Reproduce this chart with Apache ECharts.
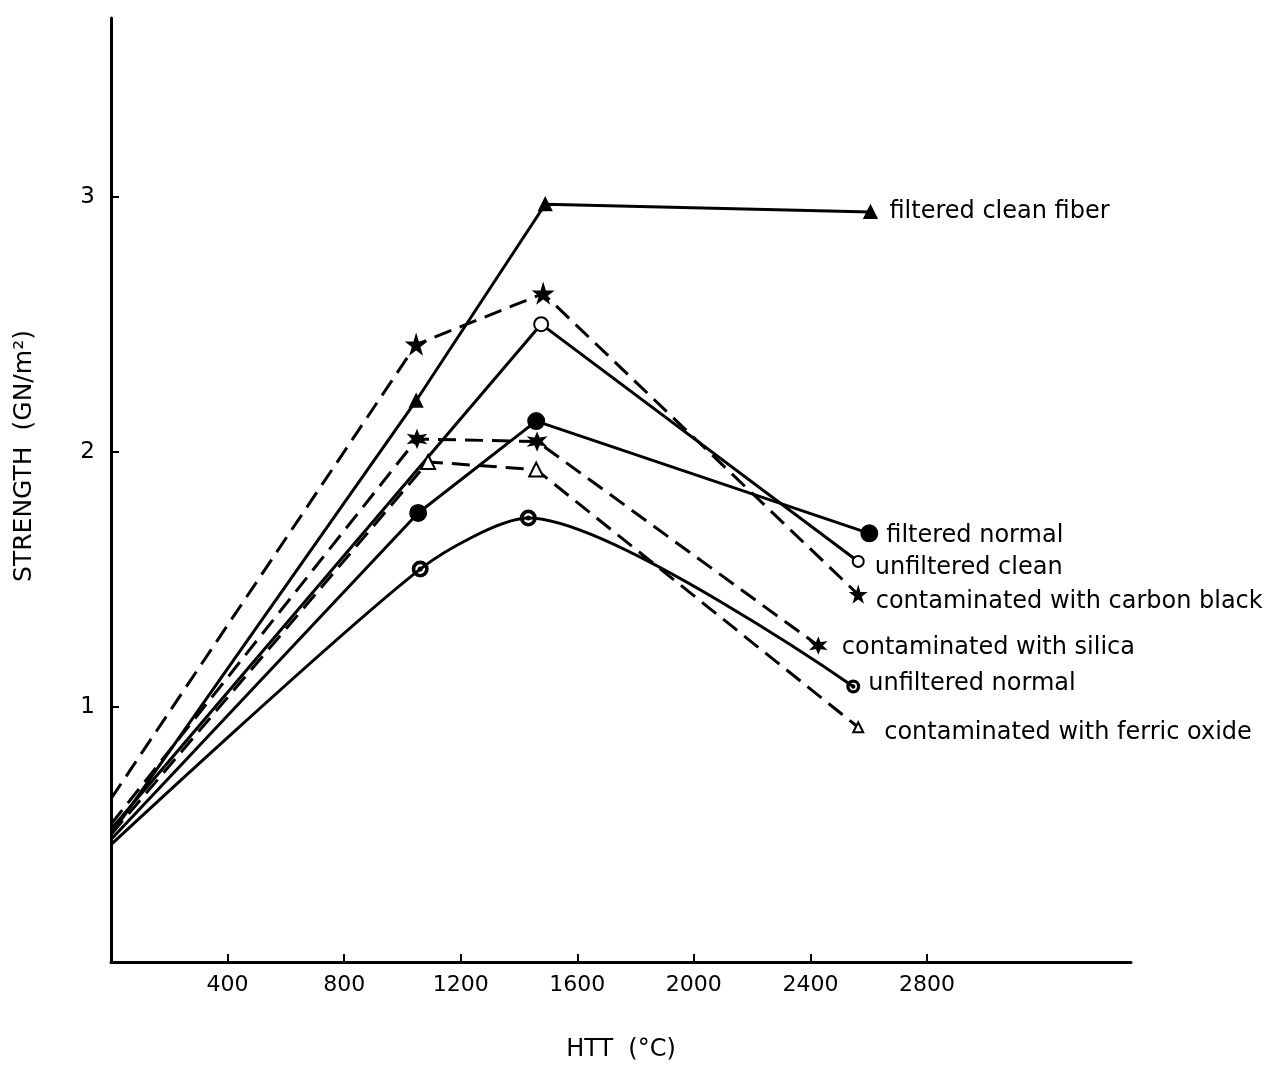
<!DOCTYPE html>
<html>
<head>
<meta charset="utf-8">
<title>Strength vs HTT</title>
<script src="https://cdn.jsdelivr.net/npm/echarts@6/dist/echarts.min.js"></script>
<style>
  html, body { margin: 0; padding: 0; background: #fff; }
  #chart { width: 1272px; height: 1067px; }
</style>
</head>
<body>
<div id="chart"></div>
<script>
// x ticks / y ticks
var xTicks = [400, 800, 1200, 1600, 2000, 2400, 2800]
var yTicks = [1, 2, 3]

// HTT (°C) and strength (GN/m2) per fiber
var cleanFiberHtt = [0, 1047, 1490, 2606]
var cleanFiberStr = [0.50, 2.20, 2.97, 2.94]

var carbonBlackHtt = [0, 1047, 1483, 2564]
var carbonBlackStr = [0.64, 2.42, 2.62, 1.44]

var unfCleanHtt = [0, 1476, 2564]
var unfCleanStr = [0.52, 2.50, 1.57]

var filtNormalHtt = [0, 1054, 1459, 2602]
var filtNormalStr = [0.48, 1.76, 2.12, 1.68]

var silicaHtt = [0, 1050, 1462, 2427]
var silicaStr = [0.54, 2.05, 2.04, 1.24]

var ferricHtt = [0, 1088, 1459, 2564]
var ferricStr = [0.50, 1.96, 1.93, 0.92]

var unfNormalHtt = [0, 1061, 1432, 2547]
var unfNormalStr = [0.46, 1.54, 1.74, 1.08]

// 符号
var STAR5 = 'path://M50,0 L61,35 L98,35 L68,57 L79,91 L50,70 L21,91 L32,57 L2,35 L39,35 Z'
var STAR6 = 'path://M50,0 L61,31 L93,25 L72,50 L93,75 L61,69 L50,100 L39,69 L7,75 L28,50 L7,25 L39,31 Z'
var DOTCIRCLE = 'path://M50,0 A50,50 0 1,1 49.99,0 Z M50,11 A39,39 0 1,0 50.01,11 Z M50,40 A10,10 0 1,1 49.99,40 Z'

var FONT = 'DejaVu Sans'

function makeSeries(name, htt, str, opt) {
  var data = htt.map(function (x, i) {
    var item = { value: [x, str[i]] }
    if (i === 0) item.symbol = 'none'
    if (i === htt.length - 1) {
      item.symbolSize = opt.endSize || opt.size
      item.label = {
        show: true,
        formatter: name,
        position: 'right',
        distance: opt.dist,
        offset: [0, opt.dy || 0],
        color: '#000',
        fontFamily: FONT,
        fontSize: 24
      }
    }
    return item
  })
  return {
    name: name,
    type: 'line',
    data: data,
    symbol: opt.symbol,
    symbolSize: opt.size,
    showSymbol: true,
    smooth: opt.smooth || false,
    animation: false,
    lineStyle: {
      color: '#000',
      width: 3,
      type: opt.dashed ? [18, 9] : 'solid'
    },
    itemStyle: {
      color: '#000',
      borderColor: '#000',
      borderWidth: 2
    }
  }
}

var chart = echarts.init(document.getElementById('chart'))

chart.setOption({
  backgroundColor: '#fff',
  grid: {
    left: 111,
    right: 141,
    top: 18,
    bottom: 102
  },
  xAxis: {
    type: 'value',
    min: 0,
    max: 3500,
    interval: 400,
    name: 'HTT  (°C)',
    nameLocation: 'middle',
    nameGap: 76,
    nameTextStyle: { color: '#000', fontFamily: FONT, fontSize: 24 },
    axisLine: { onZero: false, lineStyle: { color: '#000', width: 3 } },
    axisTick: { inside: true, length: 8, customValues: xTicks, lineStyle: { color: '#000', width: 2 } },
    axisLabel: {
      customValues: xTicks,
      formatter: function (v) { return String(v) },
      color: '#000', fontFamily: FONT, fontSize: 22, margin: 12
    },
    splitLine: { show: false }
  },
  yAxis: {
    type: 'value',
    min: 0,
    max: 3.7,
    interval: 1,
    name: 'STRENGTH  (GN/m²)',
    nameLocation: 'middle',
    nameGap: 74,
    nameTextStyle: { color: '#000', fontFamily: FONT, fontSize: 25, padding: [0, 0, 0, 68] },
    axisLine: { onZero: false, lineStyle: { color: '#000', width: 3 } },
    axisTick: { inside: true, length: 8, customValues: yTicks, lineStyle: { color: '#000', width: 2 } },
    axisLabel: { customValues: yTicks, color: '#000', fontFamily: FONT, fontSize: 23, margin: 16 },
    splitLine: { show: false }
  },
  series: [
    makeSeries('filtered clean fiber', cleanFiberHtt, cleanFiberStr, { symbol: 'triangle', size: 12, dist: 12 }),
    makeSeries('contaminated with carbon black', carbonBlackHtt, carbonBlackStr, { symbol: STAR5, size: 17, endSize: 13, dist: 10, dy: 7, dashed: true }),
    makeSeries('unfiltered clean', unfCleanHtt, unfCleanStr, { symbol: 'emptyCircle', size: 14, endSize: 11, dist: 10, dy: 6 }),
    makeSeries('filtered normal', filtNormalHtt, filtNormalStr, { symbol: 'circle', size: 16, dist: 8, dy: 2 }),
    makeSeries('contaminated with silica', silicaHtt, silicaStr, { symbol: STAR6, size: 15, endSize: 13, dist: 16, dy: 2, dashed: true }),
    makeSeries('contaminated with ferric oxide', ferricHtt, ferricStr, { symbol: 'emptyTriangle', size: 14, endSize: 10, dist: 20, dy: 5, dashed: true }),
    makeSeries('unfiltered normal', unfNormalHtt, unfNormalStr, { symbol: DOTCIRCLE, size: 15, endSize: 12, dist: 8, dy: -3, smooth: 0.25 })
  ]
})
</script>
</body>
</html>
